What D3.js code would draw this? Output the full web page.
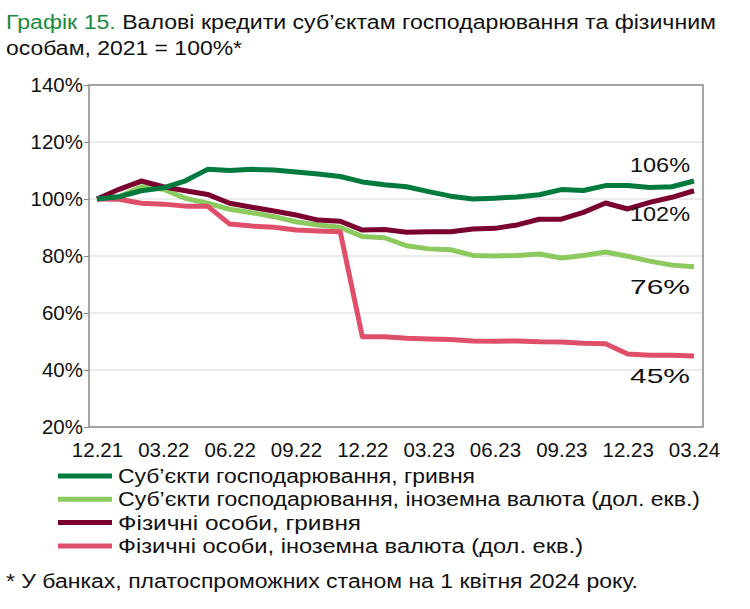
<!DOCTYPE html><html><head><meta charset="utf-8"><script src="https://cdn.jsdelivr.net/npm/d3@7"></script>
<style>body{margin:0;background:#fff}text{font-family:"Liberation Sans",Arial,sans-serif}</style></head><body><svg id="c" width="750" height="609"></svg><script>
const months=d3.range(28);
const xTickLabels=["12.21","03.22","06.22","09.22","12.22","03.23","06.23","09.23","12.23","03.24"];
const yTicks=[20,40,60,80,100,120,140];
const entUAH=[100,100.8,102.9,103.9,106.4,110.4,110,110.4,110.2,109.5,108.8,107.9,106,105,104.3,102.6,101,100,100.3,100.7,101.5,103.3,103,104.7,104.7,104,104.3,106.3];
const entFX=[100,100.8,104.3,103.4,100.2,98.5,96.4,95.2,93.8,92,90.9,90.1,86.8,86.4,83.6,82.5,82.2,80.2,80,80.2,80.7,79.3,80.2,81.4,79.9,78.2,76.8,76.2];
const indUAH=[100,103.4,106.3,104.3,102.9,101.6,98.5,97.1,95.8,94.4,92.6,92.2,89.1,89.3,88.3,88.5,88.5,89.5,89.7,90.9,92.9,92.9,95.3,98.6,96.5,98.8,100.6,102.9];
const indFX=[100,99.9,98.5,98.2,97.5,97.5,91.2,90.5,90.1,89.1,88.8,88.5,51.7,51.7,51.1,50.9,50.7,50.2,50.1,50.2,49.9,49.8,49.4,49.2,45.6,45.2,45.2,44.9];
const names=["Суб’єкти господарювання, гривня","Суб’єкти господарювання, іноземна валюта (дол. екв.)","Фізичні особи, гривня","Фізичні особи, іноземна валюта (дол. екв.)"];
const colors=["#007a3d","#8cc95e","#7a0030","#e04f6a"];
const endLabels=["106%","76%","102%","45%"];
const svg=d3.select("#c");
const x=d3.scaleLinear().domain([0,27]).range([97,694]);
const y=d3.scaleLinear().domain([20,140]).range([427,85]);
svg.append("text").attr("x",6).attr("y",29).attr("font-size",20).attr("fill","#111").attr("textLength",710).attr("lengthAdjust","spacingAndGlyphs")
 .html('<tspan fill="#1a8a3c">Графік 15.</tspan> Валові кредити суб’єктам господарювання та фізичним');
svg.append("text").attr("x",6).attr("y",55).attr("font-size",20).attr("fill","#111").attr("textLength",236).attr("lengthAdjust","spacingAndGlyphs").text("особам, 2021 = 100%*");
svg.append("g").selectAll("line").data(yTicks.slice(1,-1)).join("line").attr("x1",89).attr("x2",703)
 .attr("y1",d=>y(d)).attr("y2",d=>y(d)).attr("stroke","#d6d6d6").attr("stroke-width",1);
svg.append("rect").attr("x",89).attr("y",85).attr("width",614).attr("height",342).attr("fill","none").attr("stroke","#888").attr("stroke-width",1.5);
const ya=svg.append("g").attr("transform","translate(89,0)").call(d3.axisLeft(y).tickValues(yTicks).tickFormat(d=>d+"%").tickSize(5));
ya.select(".domain").remove();ya.selectAll("line").attr("stroke","#888");
ya.selectAll("text").attr("font-size",20.5).attr("fill","#111").attr("x",-6).style("font-family","Liberation Sans, Arial");
const xa=svg.append("g").attr("transform","translate(0,427)").call(d3.axisBottom(x).tickValues(d3.range(0,28,3)).tickFormat((d,i)=>xTickLabels[i]).tickSize(0));
xa.select(".domain").remove();
xa.selectAll("text").attr("font-size",20.5).attr("fill","#111").attr("dy","1.3em").style("font-family","Liberation Sans, Arial");
const series=[entUAH,entFX,indUAH,indFX];
const line=d3.line().x((d,i)=>x(i)).y(d=>y(d));
[1,3,2,0].forEach(k=>svg.append("path").attr("d",line(series[k])).attr("fill","none").attr("stroke",colors[k]).attr("stroke-width",5).attr("stroke-linejoin","round"));
const lblY=[entUAH[27]+5.5,entFX[27]-7,indUAH[27]-8,indFX[27]-7];
series.forEach((s,k)=>svg.append("text").attr("x",690).attr("y",y(lblY[k])+7).attr("text-anchor","end").attr("font-size",21).attr("fill","#111").attr("textLength",60).attr("lengthAdjust","spacingAndGlyphs").text(endLabels[k]));
const legLen=[357,582,243,465];
names.forEach((n,k)=>{const yy=476+k*23.3;
 svg.append("line").attr("x1",58).attr("x2",112).attr("y1",yy).attr("y2",yy).attr("stroke",colors[k]).attr("stroke-width",5);
 svg.append("text").attr("x",118).attr("y",yy+7).attr("font-size",19.5).attr("fill","#111").attr("textLength",legLen[k]).attr("lengthAdjust","spacingAndGlyphs").text(n);});
svg.append("text").attr("x",6).attr("y",588).attr("font-size",19.5).attr("fill","#111").attr("textLength",632).attr("lengthAdjust","spacingAndGlyphs").text("* У банках, платоспроможних станом на 1 квітня 2024 року.");
</script></body></html>
